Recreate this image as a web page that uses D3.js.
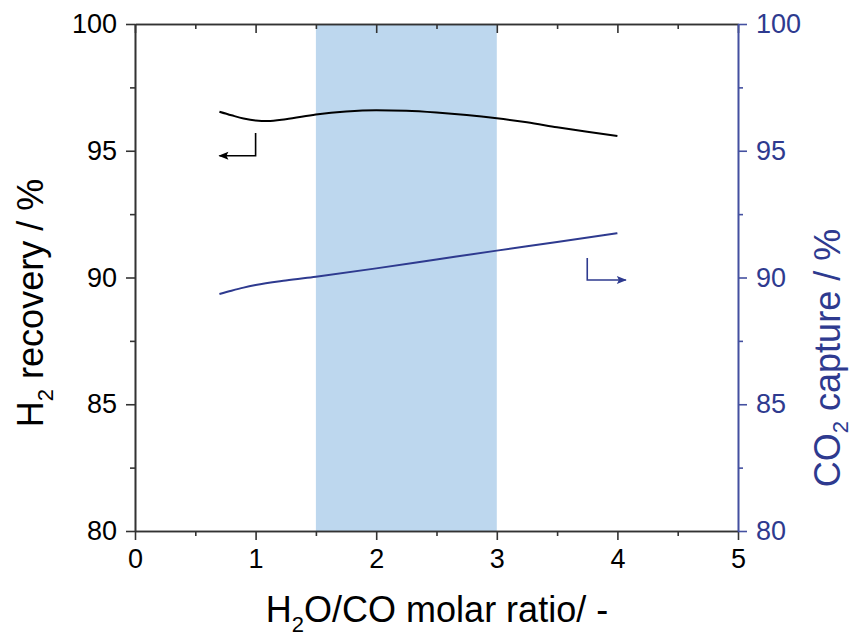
<!DOCTYPE html>
<html>
<head>
<meta charset="utf-8">
<script src="https://cdn.jsdelivr.net/npm/d3@7"></script>
<style>
  body { margin: 0; background: #fff; }
  text { font-family: "Liberation Sans", Arial, sans-serif; }
</style>
</head>
<body>
<div id="chart"></div>
<script>
// data
const ratio = [0.7, 0.8, 0.9, 1.0, 1.1, 1.25, 1.5, 1.75, 2.0, 2.25, 2.5, 2.75, 3.0, 3.25, 3.5, 3.75, 4.0];
const h2Recovery = [96.54, 96.40, 96.27, 96.19, 96.17, 96.24, 96.43, 96.55, 96.60, 96.58, 96.51, 96.41, 96.28, 96.12, 95.93, 95.75, 95.58];
const co2Ratio = [0.7, 0.8, 0.9, 1.0, 1.25, 1.5, 2.0, 2.5, 3.0, 3.5, 4.0];
const co2Capture = [89.35, 89.48, 89.60, 89.70, 89.88, 90.03, 90.36, 90.71, 91.06, 91.40, 91.75];
const shadeRange = [1.5, 3.0];
const xTicks = [0, 1, 2, 3, 4, 5];
const yTicks = [80, 85, 90, 95, 100];

const width = 858, height = 641;
const blue = "#2E3A8F";
const axisBlue = "#4450A0";
const axisGrey = "#333";

const svg = d3.select("#chart").append("svg")
    .attr("width", width)
    .attr("height", height);

const x = d3.scaleLinear().domain([0, 5]).range([135, 738]);
const yL = d3.scaleLinear().domain([80, 100]).range([531, 24]);
const yR = d3.scaleLinear().domain([80, 100]).range([531, 24]);

// shaded region
svg.append("rect")
    .attr("x", x(shadeRange[0]))
    .attr("y", yL(100))
    .attr("width", x(shadeRange[1]) - x(shadeRange[0]))
    .attr("height", yL(80) - yL(100))
    .attr("fill", "#BDD7EE");

const minorX = d3.range(0.5, 5, 1);
const minorY = d3.range(82.5, 100, 5);
const fmt = d3.format("d");

function styleAxis(g, color) {
    g.select(".domain").attr("stroke", color).attr("stroke-width", 1.6);
    g.selectAll(".tick line").attr("stroke", color).attr("stroke-width", 1.6);
    g.selectAll(".tick text").attr("fill", color).style("font-size", "27px");
}

// bottom axis
svg.append("g")
    .attr("transform", `translate(0, ${yL(80)})`)
    .call(d3.axisBottom(x).tickValues(xTicks).tickFormat(fmt).tickSize(9).tickPadding(9).tickSizeOuter(0))
    .call(g => styleAxis(g, axisGrey))
    .call(g => g.selectAll(".tick text").attr("fill", "#000"));
svg.append("g")
    .attr("transform", `translate(0, ${yL(80)})`)
    .call(d3.axisBottom(x).tickValues(minorX).tickSize(5).tickFormat("").tickSizeOuter(0))
    .call(g => styleAxis(g, axisGrey));

// top axis (ticks inward)
svg.append("g")
    .attr("transform", `translate(0, ${yL(100)})`)
    .call(d3.axisBottom(x).tickValues(xTicks).tickSize(9).tickFormat("").tickSizeOuter(0))
    .call(g => styleAxis(g, axisGrey));
svg.append("g")
    .attr("transform", `translate(0, ${yL(100)})`)
    .call(d3.axisBottom(x).tickValues(minorX).tickSize(5).tickFormat("").tickSizeOuter(0))
    .call(g => styleAxis(g, axisGrey));

// left axis
svg.append("g")
    .attr("transform", `translate(${x(0)}, 0)`)
    .call(d3.axisLeft(yL).tickValues(yTicks).tickFormat(fmt).tickSize(9).tickPadding(9).tickSizeOuter(0))
    .call(g => styleAxis(g, axisGrey))
    .call(g => g.selectAll(".tick text").attr("fill", "#000"));
svg.append("g")
    .attr("transform", `translate(${x(0)}, 0)`)
    .call(d3.axisLeft(yL).tickValues(minorY).tickSize(5).tickFormat("").tickSizeOuter(0))
    .call(g => styleAxis(g, axisGrey));

// right axis
svg.append("g")
    .attr("transform", `translate(${x(5)}, 0)`)
    .call(d3.axisRight(yR).tickValues(yTicks).tickFormat(fmt).tickSize(9).tickPadding(9).tickSizeOuter(0))
    .call(g => styleAxis(g, axisBlue))
    .call(g => g.selectAll(".tick text").attr("fill", blue));
svg.append("g")
    .attr("transform", `translate(${x(5)}, 0)`)
    .call(d3.axisRight(yR).tickValues(minorY).tickSize(5).tickFormat("").tickSizeOuter(0))
    .call(g => styleAxis(g, axisBlue));

// curves
const lineL = d3.line().x(d => x(d[0])).y(d => yL(d[1])).curve(d3.curveMonotoneX);
const lineR = d3.line().x(d => x(d[0])).y(d => yR(d[1])).curve(d3.curveMonotoneX);

svg.append("path")
    .datum(d3.zip(ratio, h2Recovery))
    .attr("d", lineL)
    .attr("fill", "none")
    .attr("stroke", "#000")
    .attr("stroke-width", 2);

svg.append("path")
    .datum(d3.zip(co2Ratio, co2Capture))
    .attr("d", lineR)
    .attr("fill", "none")
    .attr("stroke", blue)
    .attr("stroke-width", 2);

// axis pointer arrows
const defs = svg.append("defs");
function marker(id, color) {
    defs.append("marker")
        .attr("id", id)
        .attr("viewBox", "0 0 10 10")
        .attr("refX", 9).attr("refY", 5)
        .attr("markerWidth", 14).attr("markerHeight", 10)
        .attr("markerUnits", "userSpaceOnUse")
        .attr("orient", "auto")
        .append("path")
        .attr("d", "M0,1 L10,5 L0,9 L2,5 Z")
        .attr("fill", color);
}
marker("arrowK", "#000");
marker("arrowB", blue);

const arrowL = [[1.0, 95.7], [1.0, 94.8], [0.7, 94.8]];
const arrowR = [[3.75, 90.77], [3.75, 89.9], [4.07, 89.9]];

svg.append("path")
    .attr("d", d3.line().x(d => x(d[0])).y(d => yL(d[1]))(arrowL))
    .attr("fill", "none").attr("stroke", "#000").attr("stroke-width", 1.6)
    .attr("marker-end", "url(#arrowK)");
svg.append("path")
    .attr("d", d3.line().x(d => x(d[0])).y(d => yR(d[1]))(arrowR))
    .attr("fill", "none").attr("stroke", blue).attr("stroke-width", 1.6)
    .attr("marker-end", "url(#arrowB)");

// axis titles
const xt = svg.append("text")
    .attr("x", 437).attr("y", 622)
    .attr("text-anchor", "middle")
    .style("font-size", "36px")
    .attr("fill", "#000");
xt.append("tspan").text("H");
xt.append("tspan").text("2").style("font-size", "22px").attr("dy", 10);
xt.append("tspan").text("O/CO molar ratio/ -").attr("dy", -10);

const yt = svg.append("text")
    .attr("transform", "translate(43, 303) rotate(-90)")
    .attr("text-anchor", "middle")
    .style("font-size", "36px")
    .attr("fill", "#000");
yt.append("tspan").text("H");
yt.append("tspan").text("2").style("font-size", "22px").attr("dy", 10);
yt.append("tspan").text(" recovery / %").attr("dy", -10);

const yt2 = svg.append("text")
    .attr("transform", "translate(840, 358) rotate(-90)")
    .attr("text-anchor", "middle")
    .style("font-size", "36px")
    .attr("fill", blue);
yt2.append("tspan").text("CO");
yt2.append("tspan").text("2").style("font-size", "22px").attr("dy", 8);
yt2.append("tspan").text(" capture / %").attr("dy", -8);
</script>
</body>
</html>
